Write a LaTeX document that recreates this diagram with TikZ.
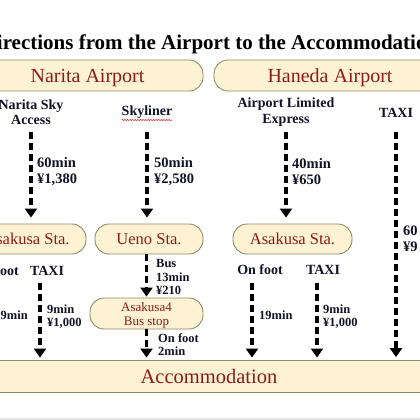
\documentclass[tikz,border=0pt]{standalone}
\usepackage{fontspec}
\setmainfont{Liberation Serif}
\usetikzlibrary{arrows.meta,positioning,calc,decorations.pathmorphing}
\definecolor{boxcream}{RGB}{253,242,210}
\definecolor{boxedge}{RGB}{140,140,110}
\definecolor{placered}{RGB}{140,28,28}
\definecolor{inkblue}{RGB}{18,18,38}
\definecolor{stripgray}{RGB}{228,228,228}
\definecolor{spellred}{RGB}{225,45,45}

\begin{document}
\begin{tikzpicture}[x=1pt, y=-1pt,
  pill/.style={draw=boxedge, line width=0.9pt, fill=boxcream, rounded corners=14pt, text=placered, inner sep=0pt, text depth=0pt},
  ttl/.style={font=\fontsize{21}{24}\selectfont\bfseries, text=black, inner sep=0pt},
  hdr/.style={font=\fontsize{14}{15.5}\selectfont\bfseries, text=inkblue, inner sep=0pt, align=center},
  note/.style={font=\fontsize{14.5}{16}\selectfont\bfseries, text=inkblue, inner sep=0pt, align=left, anchor=west},
  small/.style={font=\fontsize{12.5}{13.8}\selectfont\bfseries, text=inkblue, inner sep=0pt, align=left, anchor=west},
  flow/.style={line width=3.6pt, dash pattern=on 7pt off 4pt, -{Triangle[length=9pt,width=12pt]}}]
\useasboundingbox (0,0) rectangle (420,420);
\clip (0,0) rectangle (420,420);
\fill[white] (0,0) rectangle (420,420);
\fill[stripgray] (0,418) rectangle (420,420);

% title
\node[ttl, anchor=base] (title) at (210,50) {Directions from the Airport to the Accommodation};

% airports
\node[pill, minimum width=231pt, minimum height=31pt, font=\fontsize{20}{22}\selectfont] (narita) at (87.5,75.5) {Narita Airport};
\node[pill, minimum width=232pt, minimum height=31pt, font=\fontsize{20}{22}\selectfont] (haneda) at (330,75.5) {Haneda Airport};

% routes from the airports
\node[hdr] (nsa) at (31,112) {Narita Sky\\Access};
\node[hdr, anchor=base] (sky) at (147,115) {Skyliner};
\node[hdr] (ale) at (286,112) {Airport Limited\\Express};
\node[hdr, anchor=base] (htaxi) at (396,117) {TAXI};
\draw[spellred, line width=0.5pt, decorate, decoration={snake, amplitude=0.7pt, segment length=2.6pt}]
  ([yshift=-5pt]sky.base west) -- ([yshift=-5pt]sky.base east);

\node[note] (t60) at (37,172) {60min\\¥1,380};
\node[note] (t50) at (154,172) {50min\\¥2,580};
\node[note] (t40) at (292,172) {40min\\¥650};
\node[note] (t60h) at (403,239) {60\\¥9};

% stations
\node[pill, minimum width=118pt, minimum height=30pt, font=\fontsize{16.5}{18}\selectfont] (asl) at (27,239) {Asakusa Sta.};
\node[pill, minimum width=108pt, minimum height=30pt, font=\fontsize{16.5}{18}\selectfont] (ueno) at (149,239) {Ueno Sta.};
\node[pill, minimum width=119pt, minimum height=30pt, font=\fontsize{16.5}{18}\selectfont] (asr) at (292.5,239) {Asakusa Sta.};
\node[pill, minimum width=113pt, minimum height=31pt, font=\fontsize{13}{14}\selectfont, align=center] (bus) at (146.5,313.5) {Asakusa4\\Bus stop};

% last leg
\node[hdr, anchor=base east] (lfoot) at (19,275) {On foot};
\node[hdr, anchor=base] (ltaxi) at (47,275) {TAXI};
\node[hdr, anchor=base] (rfoot) at (260,274.5) {On foot};
\node[hdr, anchor=base] (rtaxi) at (323,274.5) {TAXI};

\node[small, anchor=base east] (m19l) at (28,319) {19min};
\node[small] (m9l) at (47,316.6) {9min\\¥1,000};
\node[small, anchor=base west] (m19r) at (259,319) {19min};
\node[small] (m9r) at (323,316.6) {9min\\¥1,000};
\node[small] (mbus) at (156,277) {Bus\\13min\\¥210};
\node[small] (mwalk) at (158,344.5) {On foot\\2min};

\node[draw=boxedge, line width=0.9pt, fill=boxcream, text=placered, inner sep=0pt, text depth=0pt,
  minimum width=440pt, minimum height=32pt, font=\fontsize{20.5}{22}\selectfont] (acc) at (209,376) {Accommodation};

% arrows
\coordinate (rowa) at (0,132);
\coordinate (rowb) at (0,283);
\draw[flow, shorten >=6pt] (nsa |- rowa) -- (nsa |- asl.north);
\draw[flow, shorten >=6pt] (sky |- rowa) -- (sky |- ueno.north);
\draw[flow, shorten >=6pt] (ale |- rowa) -- (ale |- asr.north);
\draw[flow, shorten >=2.5pt] (htaxi |- rowa) -- (htaxi |- acc.north);
\draw[flow, shorten >=1pt] (bus.north |- ueno.south) -- (bus.north);
\draw[flow, shorten >=2pt] (bus.south) -- (bus.south |- acc.north);
\draw[flow, shorten >=2pt] ($(ltaxi |- rowb)+(-7,0)$) -- ($(ltaxi |- acc.north)+(-7,0)$);
\draw[flow, shorten >=2pt] ($(rfoot |- rowb)+(-8,0)$) -- ($(rfoot |- acc.north)+(-8,0)$);
\draw[flow, shorten >=2pt] ($(rtaxi |- rowb)+(-6,0)$) -- ($(rtaxi |- acc.north)+(-6,0)$);
\end{tikzpicture}
\end{document}
